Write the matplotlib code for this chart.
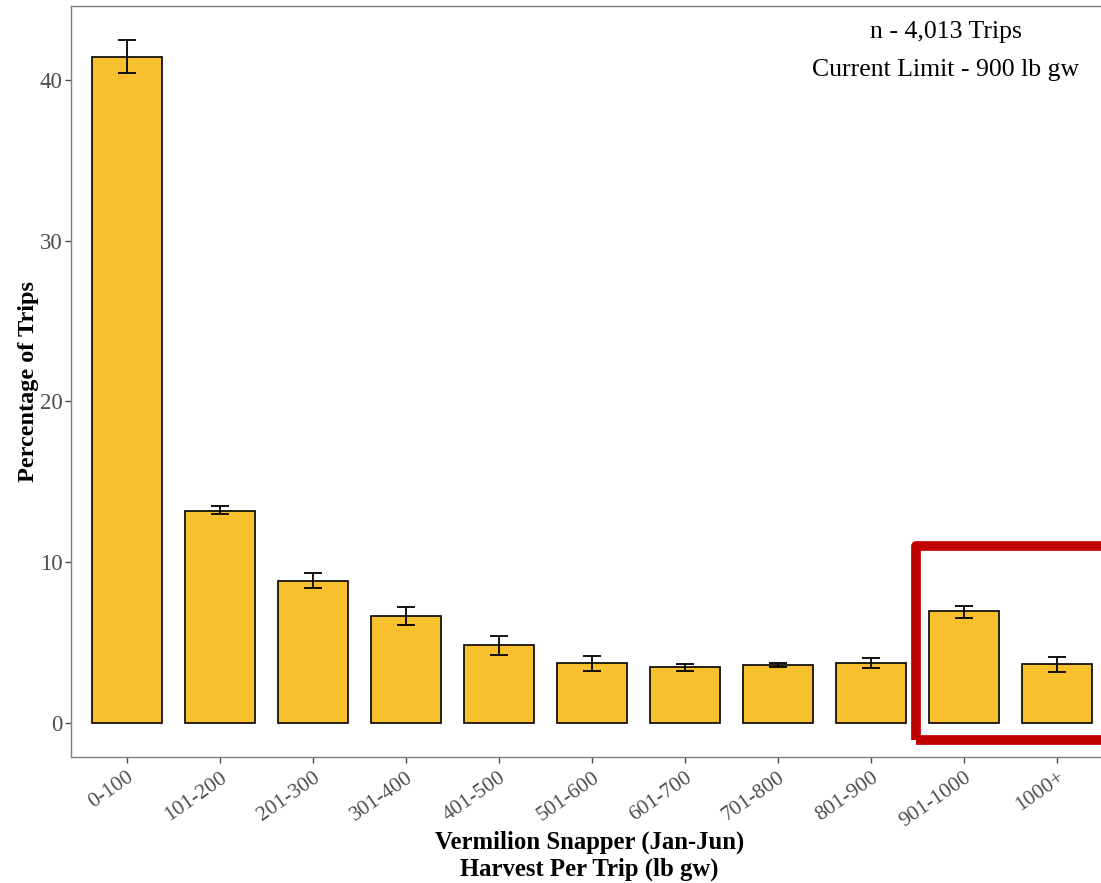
import matplotlib.pyplot as plt
from matplotlib.patches import Rectangle

categories = ['0-100', '101-200', '201-300', '301-400', '401-500', '501-600',
              '601-700', '701-800', '801-900', '901-1000', '1000+']
pct_trips = [41.4, 13.2, 8.85, 6.63, 4.83, 3.69, 3.44, 3.58, 3.69, 6.93, 3.64]
err_low = [40.4, 12.96, 8.38, 6.08, 4.23, 3.24, 3.24, 3.48, 3.38, 6.55, 3.17]
err_high = [42.5, 13.46, 9.29, 7.18, 5.41, 4.15, 3.63, 3.71, 4.0, 7.28, 4.1]


def bar_plot():
    "Bar chart of harvest per trip with error bars"
    plt.rcParams['font.family'] = ['Liberation Serif', 'DejaVu Serif']
    fig = plt.figure(figsize=(11.01, 8.83), dpi=100)
    # right edge of panel runs past the figure, as in the original
    ax = fig.add_axes([71 / 1101, 1 - 757 / 883, (1113 - 71) / 1101, (757 - 6) / 883])

    x = list(range(len(categories)))
    lower = [v - lo for v, lo in zip(pct_trips, err_low)]
    upper = [hi - v for v, hi in zip(pct_trips, err_high)]
    ax.bar(x, pct_trips, width=0.75, color='#F9C02E', edgecolor='black',
           linewidth=1.2, zorder=2)
    ax.errorbar(x, pct_trips, yerr=[lower, upper], fmt='none', ecolor='black',
                elinewidth=1.3, capsize=6.5, capthick=1.3, zorder=3)

    # highlight box around bins above the current limit
    ax.add_patch(Rectangle((8.48, -1.06), 3.0, 12.06, fill=False,
                           edgecolor='#C00000', linewidth=7, clip_on=False,
                           joinstyle='round', zorder=4))

    ax.set_xlim(-0.6, 10.6)
    ax.set_ylim(-2.13, 44.6)
    ax.set_yticks([0, 10, 20, 30, 40])
    ax.set_xticks(x)
    ax.set_xticklabels(categories, rotation=35, ha='right', rotation_mode='anchor')
    ax.tick_params(axis='both', colors='#4D4D4D', length=4, width=1,
                   labelcolor='#4D4D4D')
    ax.tick_params(axis='x', labelsize=15.5, pad=4)
    ax.tick_params(axis='y', labelsize=16.5, pad=2)
    for side in ax.spines.values():
        side.set_color('#7F7F7F')
        side.set_linewidth(1)

    ax.set_ylabel('Percentage of Trips', fontsize=17.5, fontweight='bold')
    ax.yaxis.set_label_coords(-0.0307, 0.5)
    ax.set_xlabel('Vermilion Snapper (Jan-Jun)\nHarvest Per Trip (lb gw)',
                  fontsize=17.8, fontweight='bold', linespacing=1.15)
    ax.xaxis.set_label_coords(0.4975, -0.0985)
    ax.text(8.8, 43.65, 'n - 4,013 Trips\nCurrent Limit - 900 lb gw',
            ha='center', va='top', fontsize=18.5, linespacing=1.95)

    fig.savefig('out.png', dpi=100)


def main():
    bar_plot()


if __name__ == "__main__":
    main()
